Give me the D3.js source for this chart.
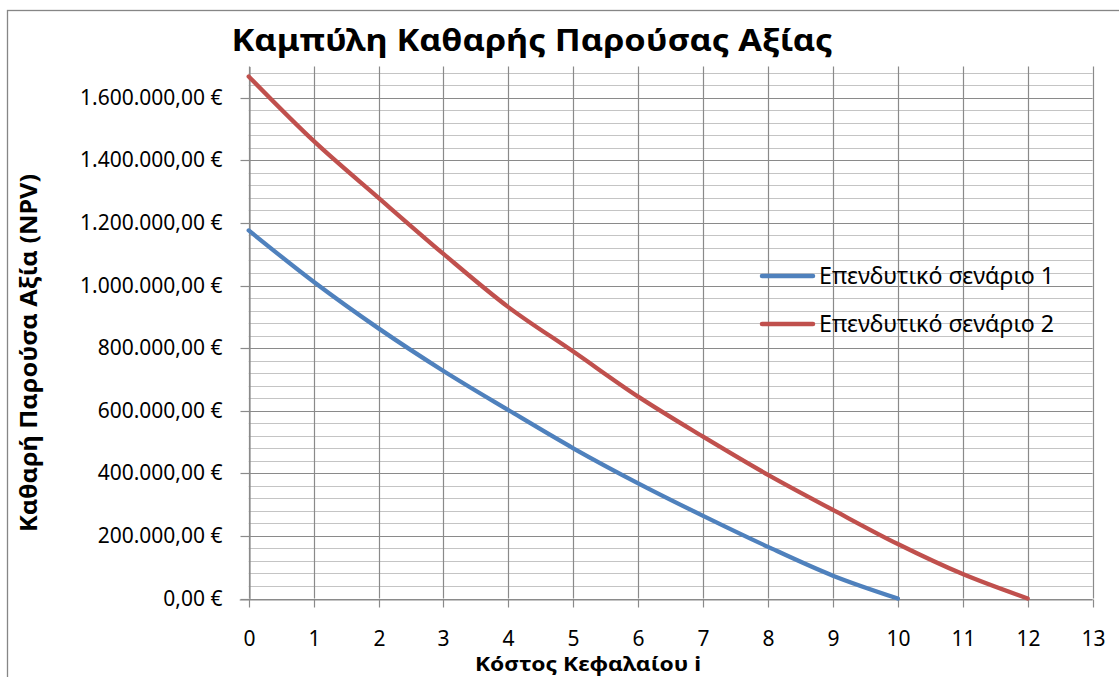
<!DOCTYPE html>
<html><head><meta charset="utf-8">
<script src="https://cdn.jsdelivr.net/npm/d3@7"></script>
<style>body{margin:0;background:#fff} svg{display:block} text{font-family:"Noto Sans",sans-serif;fill:#000}</style>
</head><body>
<svg id="c" width="1119" height="677"></svg>
<script>
// ---- data ----
const title = "Καμπύλη Καθαρής Παρούσας Αξίας";
const xTitle = "Κόστος Κεφαλαίου i";
const yTitle = "Καθαρή Παρούσα Αξία (NPV)";
const seriesNames = ["Επενδυτικό σενάριο 1", "Επενδυτικό σενάριο 2"];
const rates1 = [0, 1, 2, 3, 4, 5, 6, 7, 8, 9, 10];
const npv1 = [1176000, 1012000, 863000, 727000, 602000, 480000, 368000, 264000, 165000, 73000, 0];
const rates2 = [0, 1, 2, 3, 4, 5, 6, 7, 8, 9, 10, 11, 12];
const npv2 = [1668000, 1462000, 1280000, 1101000, 931000, 789000, 645000, 517000, 395000, 283000, 174000, 78000, 0];
const xTicks = [0, 1, 2, 3, 4, 5, 6, 7, 8, 9, 10, 11, 12, 13];
const yMajorTicks = [0, 200000, 400000, 600000, 800000, 1000000, 1200000, 1400000, 1600000];
const yMinorStep = 40000;
const yMax = 1700000;
const colors = ["#4F81BD", "#C0504D"];

const svg = d3.select("#c");
const x = d3.scaleLinear([0, 13], [248.7, 1092.6]);
const y = d3.scaleLinear([0, yMax], [598.5, 66.4]);
const px = v => Math.round(v) + 0.5;

// outer border
svg.append("rect").attr("x", 7.5).attr("y", 10.5).attr("width", 1130).attr("height", 700)
  .attr("fill", "#fff").attr("stroke", "#868686").attr("stroke-width", 1.3);

const loc = d3.formatLocale({decimal: ",", thousands: ".", grouping: [3], currency: ["", " €"]});
const fmt = loc.format("$,.2f");

// minor horizontal grid
const minors = d3.range(0, yMax + 1, yMinorStep).filter(v => v % 200000 !== 0);
svg.append("g").selectAll("line").data(minors).join("line")
  .attr("x1", x(0)).attr("x2", x(13)).attr("y1", d => px(y(d))).attr("y2", d => px(y(d)))
  .attr("stroke", "#c4c4c4").attr("stroke-width", 1.2);
// major horizontal grid
svg.append("g").selectAll("line").data(yMajorTicks).join("line")
  .attr("x1", x(0)).attr("x2", x(13)).attr("y1", d => px(y(d))).attr("y2", d => px(y(d)))
  .attr("stroke", "#8a8a8a").attr("stroke-width", 1.2);
// vertical grid
svg.append("g").selectAll("line").data(xTicks).join("line")
  .attr("x1", d => px(x(d))).attr("x2", d => px(x(d))).attr("y1", y(yMax)).attr("y2", y(0))
  .attr("stroke", "#8a8a8a").attr("stroke-width", 1.2);

// axes
const yAxis = d3.axisLeft(y).tickValues(yMajorTicks).tickSize(9).tickSizeOuter(0).tickPadding(18).tickFormat(fmt);
const gy = svg.append("g").attr("transform", `translate(${px(x(0))},0)`).call(yAxis);
gy.selectAll("text").style("font-size", "21px");
gy.selectAll("line,path").attr("stroke", "#8a8a8a").attr("stroke-width", 1.2);
gy.selectAll(".tick").attr("transform", d => `translate(0,${px(y(d))})`);

const xAxis = d3.axisBottom(x).tickValues(xTicks).tickSize(8).tickSizeOuter(0).tickPadding(24).tickFormat(d3.format("d"));
const gx = svg.append("g").attr("transform", `translate(0,${px(y(0))})`).call(xAxis);
gx.selectAll("text").style("font-size", "21px");
gx.selectAll("line,path").attr("stroke", "#8a8a8a").attr("stroke-width", 1.2);
gx.selectAll(".tick").attr("transform", d => `translate(${px(x(d))},0)`);
gx.select(".domain").attr("d", `M${x(0) - 9},0.5H${x(13)}`);

// lines
const line = d3.line().x(d => x(d[0])).y(d => y(d[1])).curve(d3.curveCatmullRom.alpha(0));
const data = [d3.zip(rates1, npv1), d3.zip(rates2, npv2)];
svg.append("g").selectAll("path").data(data).join("path")
  .attr("d", line).attr("fill", "none").attr("stroke", (d, i) => colors[i])
  .attr("stroke-width", 4.3).attr("stroke-linecap", "round").attr("stroke-linejoin", "round");

// legend
const lg = svg.append("g");
seriesNames.forEach((n, i) => {
  const ly = [276, 324][i];
  lg.append("line").attr("x1", 762).attr("x2", 813).attr("y1", ly).attr("y2", ly)
    .attr("stroke", colors[i]).attr("stroke-width", 4.5).attr("stroke-linecap", "round");
  lg.append("text").attr("x", 819).attr("y", ly).attr("dy", "0.36em").style("font-size", "23px")
    .attr("textLength", 235).attr("lengthAdjust", "spacingAndGlyphs").text(n);
});

// titles
svg.append("text").attr("x", 532).attr("y", 51).attr("text-anchor", "middle")
  .style("font-size", "31px").style("font-weight", "bold")
  .attr("textLength", 601).attr("lengthAdjust", "spacingAndGlyphs").text(title);
svg.append("text").attr("x", 588).attr("y", 671).attr("text-anchor", "middle")
  .style("font-size", "19.5px").style("font-weight", "bold")
  .attr("textLength", 226).attr("lengthAdjust", "spacingAndGlyphs").text(xTitle);
svg.append("text").attr("transform", "translate(37,353) rotate(-90)").attr("text-anchor", "middle")
  .style("font-size", "24px").style("font-weight", "bold")
  .attr("textLength", 358).attr("lengthAdjust", "spacingAndGlyphs").text(yTitle);
</script>
</body></html>
